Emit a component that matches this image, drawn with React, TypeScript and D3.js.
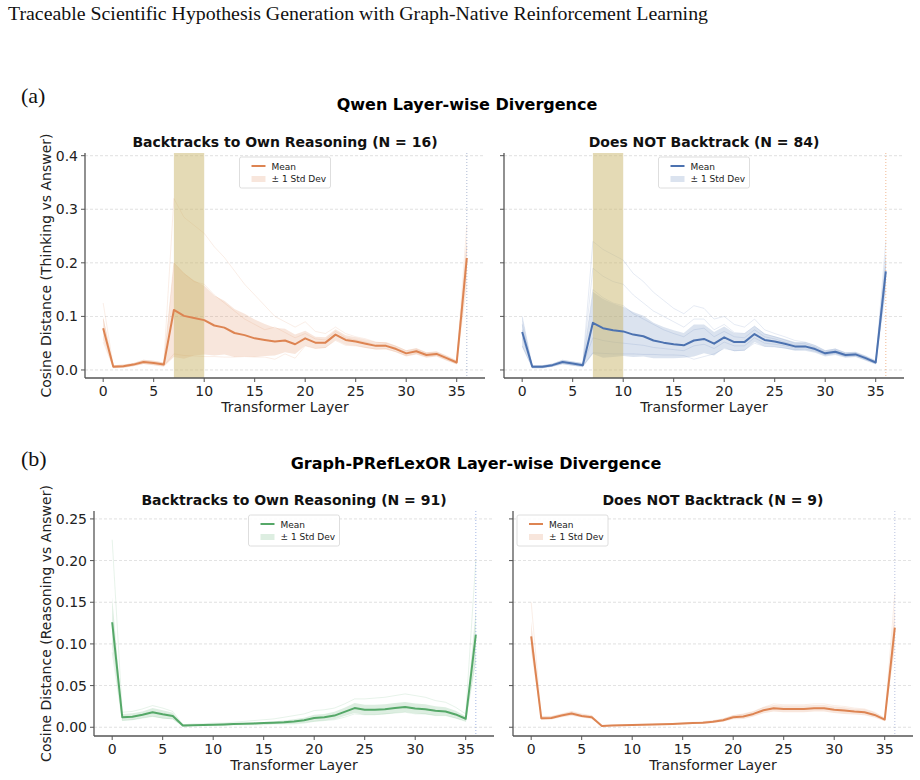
import { useEffect, useRef } from 'react';
import * as d3 from 'd3';

// layers 0..36
const LAYERS = d3.range(0, 37);
const X_TICKS = [0, 5, 10, 15, 20, 25, 30, 35];
const Y_TICKS_A = [0, 0.1, 0.2, 0.3, 0.4];
const Y_TICKS_B = [0, 0.05, 0.1, 0.15, 0.2, 0.25];
const HIGHLIGHT = [7, 10];

// (a) Qwen, backtracks (N = 16)
const QB_MEAN = [0.078, 0.006, 0.007, 0.010, 0.015, 0.013, 0.010, 0.112, 0.101, 0.097, 0.093, 0.083, 0.079, 0.069, 0.065, 0.059, 0.056, 0.053, 0.055, 0.048, 0.059, 0.051, 0.051, 0.066, 0.056, 0.053, 0.049, 0.045, 0.045, 0.039, 0.031, 0.035, 0.028, 0.030, 0.022, 0.014, 0.209];
const QB_STD = [0.022, 0.003, 0.003, 0.003, 0.004, 0.004, 0.004, 0.088, 0.080, 0.070, 0.064, 0.056, 0.050, 0.045, 0.040, 0.035, 0.030, 0.026, 0.022, 0.018, 0.014, 0.011, 0.010, 0.010, 0.009, 0.008, 0.008, 0.007, 0.007, 0.006, 0.006, 0.006, 0.005, 0.005, 0.005, 0.004, 0.040];
const QB_TRACES = [
  [0.125, 0.008, 0.009, 0.012, 0.018, 0.016, 0.013, 0.320, 0.285, 0.270, 0.255, 0.230, 0.210, 0.185, 0.160, 0.140, 0.120, 0.100, 0.090, 0.080, 0.090, 0.072, 0.068, 0.080, 0.068, 0.062, 0.058, 0.052, 0.050, 0.044, 0.036, 0.039, 0.032, 0.033, 0.025, 0.016, 0.270],
  [0.095, 0.007, 0.008, 0.011, 0.016, 0.014, 0.011, 0.200, 0.180, 0.165, 0.160, 0.140, 0.125, 0.110, 0.095, 0.085, 0.075, 0.080, 0.070, 0.060, 0.068, 0.058, 0.056, 0.072, 0.060, 0.056, 0.052, 0.047, 0.047, 0.041, 0.033, 0.037, 0.030, 0.031, 0.023, 0.015, 0.230],
  [0.052, 0.005, 0.005, 0.008, 0.012, 0.010, 0.008, 0.030, 0.027, 0.026, 0.025, 0.025, 0.024, 0.024, 0.025, 0.024, 0.024, 0.020, 0.030, 0.022, 0.045, 0.040, 0.042, 0.055, 0.046, 0.045, 0.042, 0.039, 0.040, 0.034, 0.027, 0.031, 0.025, 0.027, 0.019, 0.012, 0.160],
];

// (a) Qwen, does not backtrack (N = 84)
const QN_MEAN = [0.071, 0.006, 0.006, 0.009, 0.015, 0.012, 0.009, 0.088, 0.078, 0.074, 0.072, 0.066, 0.063, 0.055, 0.051, 0.048, 0.046, 0.055, 0.058, 0.049, 0.061, 0.052, 0.052, 0.067, 0.056, 0.053, 0.049, 0.044, 0.044, 0.039, 0.031, 0.034, 0.028, 0.029, 0.022, 0.014, 0.184];
const QN_STD = [0.028, 0.003, 0.003, 0.003, 0.004, 0.004, 0.004, 0.058, 0.055, 0.050, 0.046, 0.042, 0.038, 0.033, 0.029, 0.026, 0.023, 0.030, 0.027, 0.022, 0.020, 0.017, 0.016, 0.015, 0.012, 0.010, 0.009, 0.008, 0.008, 0.007, 0.006, 0.006, 0.005, 0.005, 0.005, 0.004, 0.030];
const QN_TRACES = [
  [0.100, 0.008, 0.008, 0.011, 0.018, 0.015, 0.012, 0.240, 0.225, 0.215, 0.205, 0.180, 0.165, 0.145, 0.130, 0.115, 0.105, 0.120, 0.115, 0.095, 0.100, 0.085, 0.080, 0.095, 0.075, 0.068, 0.062, 0.055, 0.052, 0.046, 0.036, 0.039, 0.032, 0.032, 0.025, 0.016, 0.240],
  [0.085, 0.007, 0.007, 0.010, 0.016, 0.013, 0.010, 0.190, 0.175, 0.165, 0.160, 0.140, 0.125, 0.110, 0.100, 0.090, 0.080, 0.095, 0.095, 0.075, 0.085, 0.070, 0.068, 0.082, 0.067, 0.062, 0.056, 0.050, 0.049, 0.043, 0.034, 0.037, 0.030, 0.031, 0.024, 0.015, 0.215],
  [0.075, 0.006, 0.006, 0.009, 0.015, 0.012, 0.009, 0.150, 0.135, 0.125, 0.120, 0.105, 0.095, 0.085, 0.075, 0.068, 0.062, 0.075, 0.078, 0.062, 0.072, 0.062, 0.060, 0.075, 0.062, 0.058, 0.052, 0.047, 0.046, 0.041, 0.032, 0.035, 0.029, 0.030, 0.023, 0.014, 0.195],
  [0.060, 0.005, 0.005, 0.008, 0.013, 0.010, 0.008, 0.060, 0.055, 0.052, 0.050, 0.048, 0.046, 0.042, 0.040, 0.038, 0.036, 0.045, 0.048, 0.040, 0.052, 0.045, 0.045, 0.060, 0.050, 0.048, 0.045, 0.041, 0.042, 0.037, 0.029, 0.032, 0.026, 0.028, 0.020, 0.013, 0.170],
  [0.045, 0.004, 0.004, 0.007, 0.011, 0.009, 0.007, 0.032, 0.031, 0.030, 0.030, 0.030, 0.029, 0.029, 0.028, 0.028, 0.027, 0.020, 0.025, 0.030, 0.040, 0.036, 0.037, 0.050, 0.044, 0.043, 0.041, 0.038, 0.039, 0.035, 0.028, 0.031, 0.025, 0.026, 0.019, 0.012, 0.150],
];

// (b) Graph-PRefLexOR, backtracks (N = 91)
const GB_MEAN = [0.126, 0.012, 0.0127, 0.015, 0.018, 0.0155, 0.0135, 0.002, 0.0024, 0.0028, 0.003, 0.0034, 0.0038, 0.0042, 0.0046, 0.005, 0.0055, 0.006, 0.007, 0.0085, 0.011, 0.012, 0.014, 0.0185, 0.023, 0.021, 0.021, 0.0217, 0.023, 0.0244, 0.0224, 0.0217, 0.0197, 0.019, 0.0154, 0.0102, 0.111];
const GB_STD = [0.030, 0.004, 0.004, 0.004, 0.005, 0.005, 0.004, 0.001, 0.001, 0.001, 0.001, 0.001, 0.001, 0.001, 0.0012, 0.0014, 0.0016, 0.002, 0.0025, 0.003, 0.004, 0.004, 0.0045, 0.005, 0.006, 0.006, 0.006, 0.006, 0.006, 0.006, 0.006, 0.006, 0.0055, 0.005, 0.0045, 0.003, 0.030];
const GB_TRACES = [
  [0.225, 0.018, 0.019, 0.022, 0.026, 0.023, 0.019, 0.003, 0.004, 0.004, 0.005, 0.005, 0.006, 0.007, 0.008, 0.009, 0.010, 0.012, 0.014, 0.016, 0.020, 0.021, 0.023, 0.028, 0.034, 0.034, 0.035, 0.036, 0.038, 0.040, 0.038, 0.036, 0.032, 0.030, 0.024, 0.016, 0.200],
  [0.090, 0.008, 0.009, 0.011, 0.013, 0.011, 0.010, 0.001, 0.002, 0.002, 0.002, 0.002, 0.003, 0.003, 0.003, 0.003, 0.004, 0.004, 0.004, 0.005, 0.007, 0.008, 0.009, 0.012, 0.016, 0.015, 0.015, 0.016, 0.017, 0.018, 0.016, 0.016, 0.014, 0.014, 0.011, 0.007, 0.080],
];

// (b) Graph-PRefLexOR, does not backtrack (N = 9)
const GN_MEAN = [0.109, 0.0108, 0.0112, 0.014, 0.0164, 0.0136, 0.012, 0.0016, 0.002, 0.0023, 0.0026, 0.0029, 0.0032, 0.0036, 0.004, 0.0046, 0.005, 0.0055, 0.0065, 0.0085, 0.012, 0.013, 0.016, 0.0204, 0.0228, 0.022, 0.022, 0.022, 0.0228, 0.0228, 0.021, 0.020, 0.0188, 0.018, 0.0148, 0.0092, 0.1196];
const GN_STD = [0.018, 0.002, 0.002, 0.002, 0.0025, 0.002, 0.002, 0.0006, 0.0006, 0.0006, 0.0006, 0.0007, 0.0007, 0.0008, 0.0008, 0.0009, 0.001, 0.0012, 0.0015, 0.002, 0.0025, 0.003, 0.003, 0.0035, 0.004, 0.004, 0.004, 0.004, 0.004, 0.004, 0.004, 0.004, 0.0035, 0.0035, 0.003, 0.002, 0.025];
const GN_TRACES = [
  [0.150, 0.013, 0.013, 0.016, 0.019, 0.016, 0.014, 0.002, 0.0025, 0.0028, 0.003, 0.0034, 0.0037, 0.004, 0.0045, 0.0052, 0.006, 0.0068, 0.008, 0.010, 0.014, 0.016, 0.019, 0.024, 0.028, 0.027, 0.027, 0.027, 0.028, 0.028, 0.026, 0.025, 0.023, 0.022, 0.018, 0.011, 0.160],
];

const ORANGE = '#DD8452';
const BLUE = '#4C72B0';
const GREEN = '#55A868';
const SANS = 'DejaVu Sans, sans-serif';
const SERIF = 'Liberation Serif, Times New Roman, serif';

interface PanelCfg {
  title: string;
  left: number;
  right: number;
  top: number;
  bottom: number;
  yDomain: [number, number];
  yTicks: number[];
  yFmt: string;
  showYLabels: boolean;
  yLabel?: string;
  mean: number[];
  std: number[];
  traces: number[][];
  color: string;
  vlineColor: string;
  highlight: boolean;
  legend: 'center' | 'left';
}

export default function App() {
  const svgRef = useRef<SVGSVGElement>(null);

  useEffect(() => {
    if (!svgRef.current) return;
    const svg = d3.select(svgRef.current);
    svg.selectAll('*').remove();

    svg.append('rect').attr('width', 920).attr('height', 780).attr('fill', '#fff');

    // page header + panel labels
    svg.append('text')
      .attr('x', 8).attr('y', 20)
      .attr('textLength', 700).attr('lengthAdjust', 'spacingAndGlyphs')
      .style('font', `18.5px ${SERIF}`)
      .attr('fill', '#111')
      .text('Traceable Scientific Hypothesis Generation with Graph-Native Reinforcement Learning');

    svg.append('text').attr('x', 21).attr('y', 103)
      .style('font', `22px ${SERIF}`).attr('fill', '#111').text('(a)');
    svg.append('text').attr('x', 21).attr('y', 466)
      .style('font', `22px ${SERIF}`).attr('fill', '#111').text('(b)');

    svg.append('text').attr('x', 467).attr('y', 110)
      .attr('text-anchor', 'middle')
      .style('font', `bold 16px ${SANS}`)
      .text('Qwen Layer-wise Divergence');
    svg.append('text').attr('x', 476).attr('y', 469)
      .attr('text-anchor', 'middle')
      .style('font', `bold 16px ${SANS}`)
      .text('Graph-PRefLexOR Layer-wise Divergence');

    const panels: PanelCfg[] = [
      {
        title: 'Backtracks to Own Reasoning (N = 16)', left: 85, right: 485, top: 153, bottom: 378,
        yDomain: [-0.015, 0.405], yTicks: Y_TICKS_A, yFmt: '.1f', showYLabels: true,
        yLabel: 'Cosine Distance (Thinking vs Answer)',
        mean: QB_MEAN, std: QB_STD, traces: QB_TRACES, color: ORANGE, vlineColor: '#9aa8c8',
        highlight: true, legend: 'center',
      },
      {
        title: 'Does NOT Backtrack (N = 84)', left: 504, right: 904, top: 153, bottom: 378,
        yDomain: [-0.015, 0.405], yTicks: Y_TICKS_A, yFmt: '.1f', showYLabels: false,
        mean: QN_MEAN, std: QN_STD, traces: QN_TRACES, color: BLUE, vlineColor: '#f0a878',
        highlight: true, legend: 'center',
      },
      {
        title: 'Backtracks to Own Reasoning (N = 91)', left: 94, right: 494, top: 511, bottom: 736,
        yDomain: [-0.0105, 0.2595], yTicks: Y_TICKS_B, yFmt: '.2f', showYLabels: true,
        yLabel: 'Cosine Distance (Reasoning vs Answer)',
        mean: GB_MEAN, std: GB_STD, traces: GB_TRACES, color: GREEN, vlineColor: '#8fa6e0',
        highlight: false, legend: 'center',
      },
      {
        title: 'Does NOT Backtrack (N = 9)', left: 513, right: 913, top: 511, bottom: 736,
        yDomain: [-0.0105, 0.2595], yTicks: Y_TICKS_B, yFmt: '.2f', showYLabels: false,
        mean: GN_MEAN, std: GN_STD, traces: GN_TRACES, color: ORANGE, vlineColor: '#a8b4d8',
        highlight: false, legend: 'left',
      },
    ];

    panels.forEach((p, pi) => {
      const x = d3.scaleLinear().domain([-1.8, 37.8]).range([p.left, p.right]);
      const y = d3.scaleLinear().domain(p.yDomain).range([p.bottom, p.top]);
      const g = svg.append('g');

      const clipId = `clip-${pi}`;
      g.append('clipPath').attr('id', clipId)
        .append('rect')
        .attr('x', p.left).attr('y', p.top)
        .attr('width', p.right - p.left).attr('height', p.bottom - p.top);

      // grid
      g.append('g').selectAll('line')
        .data(p.yTicks)
        .join('line')
        .attr('x1', p.left).attr('x2', p.right)
        .attr('y1', d => y(d)).attr('y2', d => y(d))
        .attr('stroke', '#b8b8b8').attr('stroke-width', 0.7)
        .attr('stroke-dasharray', '3,2').attr('opacity', 0.6);

      const plot = g.append('g').attr('clip-path', `url(#${clipId})`);

      // std band
      const area = d3.area<number>()
        .x((_, i) => x(LAYERS[i]))
        .y0((d, i) => y(d - p.std[i]))
        .y1((d, i) => y(d + p.std[i]));
      plot.append('path')
        .datum(p.mean)
        .attr('d', area)
        .attr('fill', p.color).attr('opacity', 0.2);

      // individual traces
      const line = d3.line<number>().x((_, i) => x(LAYERS[i])).y(d => y(d));
      plot.append('g').selectAll('path')
        .data(p.traces)
        .join('path')
        .attr('d', line)
        .attr('fill', 'none').attr('stroke', p.color)
        .attr('stroke-width', 0.8).attr('opacity', 0.18);

      if (p.highlight) {
        plot.append('rect')
          .attr('x', x(HIGHLIGHT[0])).attr('width', x(HIGHLIGHT[1]) - x(HIGHLIGHT[0]))
          .attr('y', p.top).attr('height', p.bottom - p.top)
          .attr('fill', '#c9b66b').attr('opacity', 0.5);
      }

      plot.append('line')
        .attr('x1', x(36)).attr('x2', x(36))
        .attr('y1', p.top).attr('y2', p.bottom)
        .attr('stroke', p.vlineColor).attr('stroke-width', 1)
        .attr('stroke-dasharray', '1,2').attr('opacity', 0.8);

      // mean
      plot.append('path')
        .datum(p.mean)
        .attr('d', line)
        .attr('fill', 'none').attr('stroke', p.color)
        .attr('stroke-width', 2).attr('stroke-linejoin', 'round');

      // spines
      const axisColor = '#555';
      g.append('line').attr('x1', p.left).attr('x2', p.left)
        .attr('y1', p.top).attr('y2', p.bottom)
        .attr('stroke', axisColor).attr('stroke-width', 1.3);
      g.append('line').attr('x1', p.left).attr('x2', p.right)
        .attr('y1', p.bottom).attr('y2', p.bottom)
        .attr('stroke', axisColor).attr('stroke-width', 1.3);

      // x ticks
      const xt = g.append('g').selectAll('g').data(X_TICKS).join('g');
      xt.append('line')
        .attr('x1', d => x(d)).attr('x2', d => x(d))
        .attr('y1', p.bottom).attr('y2', p.bottom + 4)
        .attr('stroke', axisColor).attr('stroke-width', 1);
      xt.append('text')
        .attr('x', d => x(d)).attr('y', p.bottom + 18)
        .attr('text-anchor', 'middle')
        .style('font', `14px ${SANS}`).attr('fill', '#222')
        .text(d => String(d));

      // y ticks
      const yt = g.append('g').selectAll('g').data(p.yTicks).join('g');
      yt.append('line')
        .attr('x1', p.left - 4).attr('x2', p.left)
        .attr('y1', d => y(d)).attr('y2', d => y(d))
        .attr('stroke', axisColor).attr('stroke-width', 1);
      if (p.showYLabels) {
        const fmt = d3.format(p.yFmt);
        yt.append('text')
          .attr('x', p.left - 7).attr('y', d => y(d))
          .attr('dy', '0.36em')
          .attr('text-anchor', 'end')
          .style('font', `14px ${SANS}`).attr('fill', '#222')
          .text(d => fmt(d));
      }

      const cx = (p.left + p.right) / 2;
      g.append('text')
        .attr('x', cx).attr('y', p.bottom + 34)
        .attr('text-anchor', 'middle')
        .style('font', `14px ${SANS}`).attr('fill', '#222')
        .text('Transformer Layer');

      if (p.yLabel) {
        const cy = (p.top + p.bottom) / 2;
        g.append('text')
          .attr('transform', `translate(51,${cy}) rotate(-90)`)
          .attr('text-anchor', 'middle')
          .style('font', `14px ${SANS}`).attr('fill', '#222')
          .text(p.yLabel);
      }

      g.append('text')
        .attr('x', cx).attr('y', p.top - 6)
        .attr('text-anchor', 'middle')
        .style('font', `bold 14px ${SANS}`).attr('fill', '#111')
        .text(p.title);

      // legend
      const lw = 91, lh = 31;
      const lx = p.legend === 'center' ? cx - lw / 2 : p.left + 4;
      const ly = p.top + 4;
      const lg = g.append('g').attr('transform', `translate(${lx},${ly})`);
      lg.append('rect')
        .attr('width', lw).attr('height', lh).attr('rx', 2)
        .attr('fill', '#fff').attr('fill-opacity', 0.85)
        .attr('stroke', '#d6d6d6').attr('stroke-width', 0.8);
      lg.append('line')
        .attr('x1', 12).attr('x2', 26).attr('y1', 9).attr('y2', 9)
        .attr('stroke', p.color).attr('stroke-width', 2);
      lg.append('rect')
        .attr('x', 12).attr('y', 19).attr('width', 14).attr('height', 6)
        .attr('fill', p.color).attr('opacity', 0.2);
      lg.append('text').attr('x', 32).attr('y', 12.5)
        .style('font', `9px ${SANS}`).attr('fill', '#222').text('Mean');
      lg.append('text').attr('x', 32).attr('y', 25)
        .style('font', `9px ${SANS}`).attr('fill', '#222').text('± 1 Std Dev');
    });
  }, []);

  return (
    <div style={{ position: 'absolute', left: 0, top: 0, width: 920, height: 780 }}>
      <svg ref={svgRef} width={920} height={780} style={{ display: 'block' }} />
    </div>
  );
}
